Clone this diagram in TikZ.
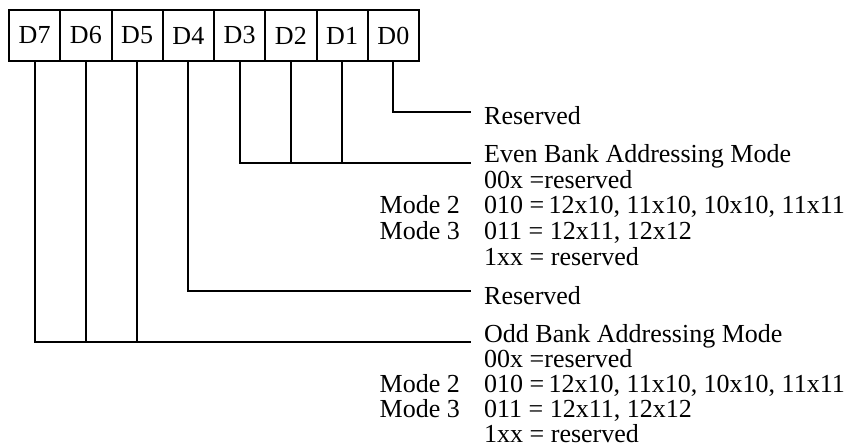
\documentclass[tikz,border=0pt]{standalone}
\usepackage{fontspec}
\setmainfont{Liberation Serif}
\begin{document}
\begin{tikzpicture}[x=1pt,y=-1pt,
  wire/.style={line width=2pt,line cap=rect},
  cell/.style={draw,line width=2pt,minimum width=51.25pt,minimum height=51pt,inner sep=0pt,anchor=north west},
  txt/.style={inner sep=0pt,anchor=base west},
  tag/.style={inner sep=0pt,anchor=base east},
  every node/.style={font=\fontsize{26}{26}\selectfont}]
\useasboundingbox (0,0) rectangle (850,446);
% register cells D7 ... D0
\foreach \b [count=\i from 0] in {7,6,5,4,3,2,1,0}
  \node[cell] (d\b) at ({8+51.25*\i},9) {D\b};
% end points of the leader lines
\coordinate (e0) at (470,112);
\coordinate (e3) at (470,163);
\coordinate (e4) at (470,291);
\coordinate (e7) at (470,342);
% D0 -> reserved
\draw[wire] (d0.south) |- (e0);
% D3..D1 -> even bank mode
\draw[wire] (d3.south) |- (e3);
\draw[wire] (d2.south) -- (d2.south |- e3);
\draw[wire] (d1.south) -- (d1.south |- e3);
% D4 -> reserved
\draw[wire] (d4.south) |- (e4);
% D7..D5 -> odd bank mode
\draw[wire] (d7.south) |- (e7);
\draw[wire] (d6.south) -- (d6.south |- e7);
\draw[wire] (d5.south) -- (d5.south |- e7);
% labels
\node[txt] (r0) at (484,125) {Reserved};
\node[txt] (ev) at (484,163) {Even Bank Addressing Mode};
\node[txt] (ev1) at (484,188.5) {00x =reserved};
\node[txt] (ev2) at (484,214) {010 =\,12x10, 11x10, 10x10, 11x11};
\node[txt] (ev3) at (484,239.5) {011 = 12x11, 12x12};
\node[txt] (ev4) at (484,265) {1xx = reserved};
\node[tag] (evm2) at (460,214) {Mode 2};
\node[tag] (evm3) at (460,239.5) {Mode 3};
\node[txt] (r4) at (484,304) {Reserved};
\node[txt] (od) at (484,342) {Odd Bank Addressing Mode};
\node[txt] (od1) at (484,367) {00x =reserved};
\node[txt] (od2) at (484,392.5) {010 =\,12x10, 11x10, 10x10, 11x11};
\node[txt] (od3) at (484,417.5) {011 = 12x11, 12x12};
\node[txt] (od4) at (484,442) {1xx = reserved};
\node[tag] (odm2) at (460,392.5) {Mode 2};
\node[tag] (odm3) at (460,417.5) {Mode 3};
\end{tikzpicture}
\end{document}
